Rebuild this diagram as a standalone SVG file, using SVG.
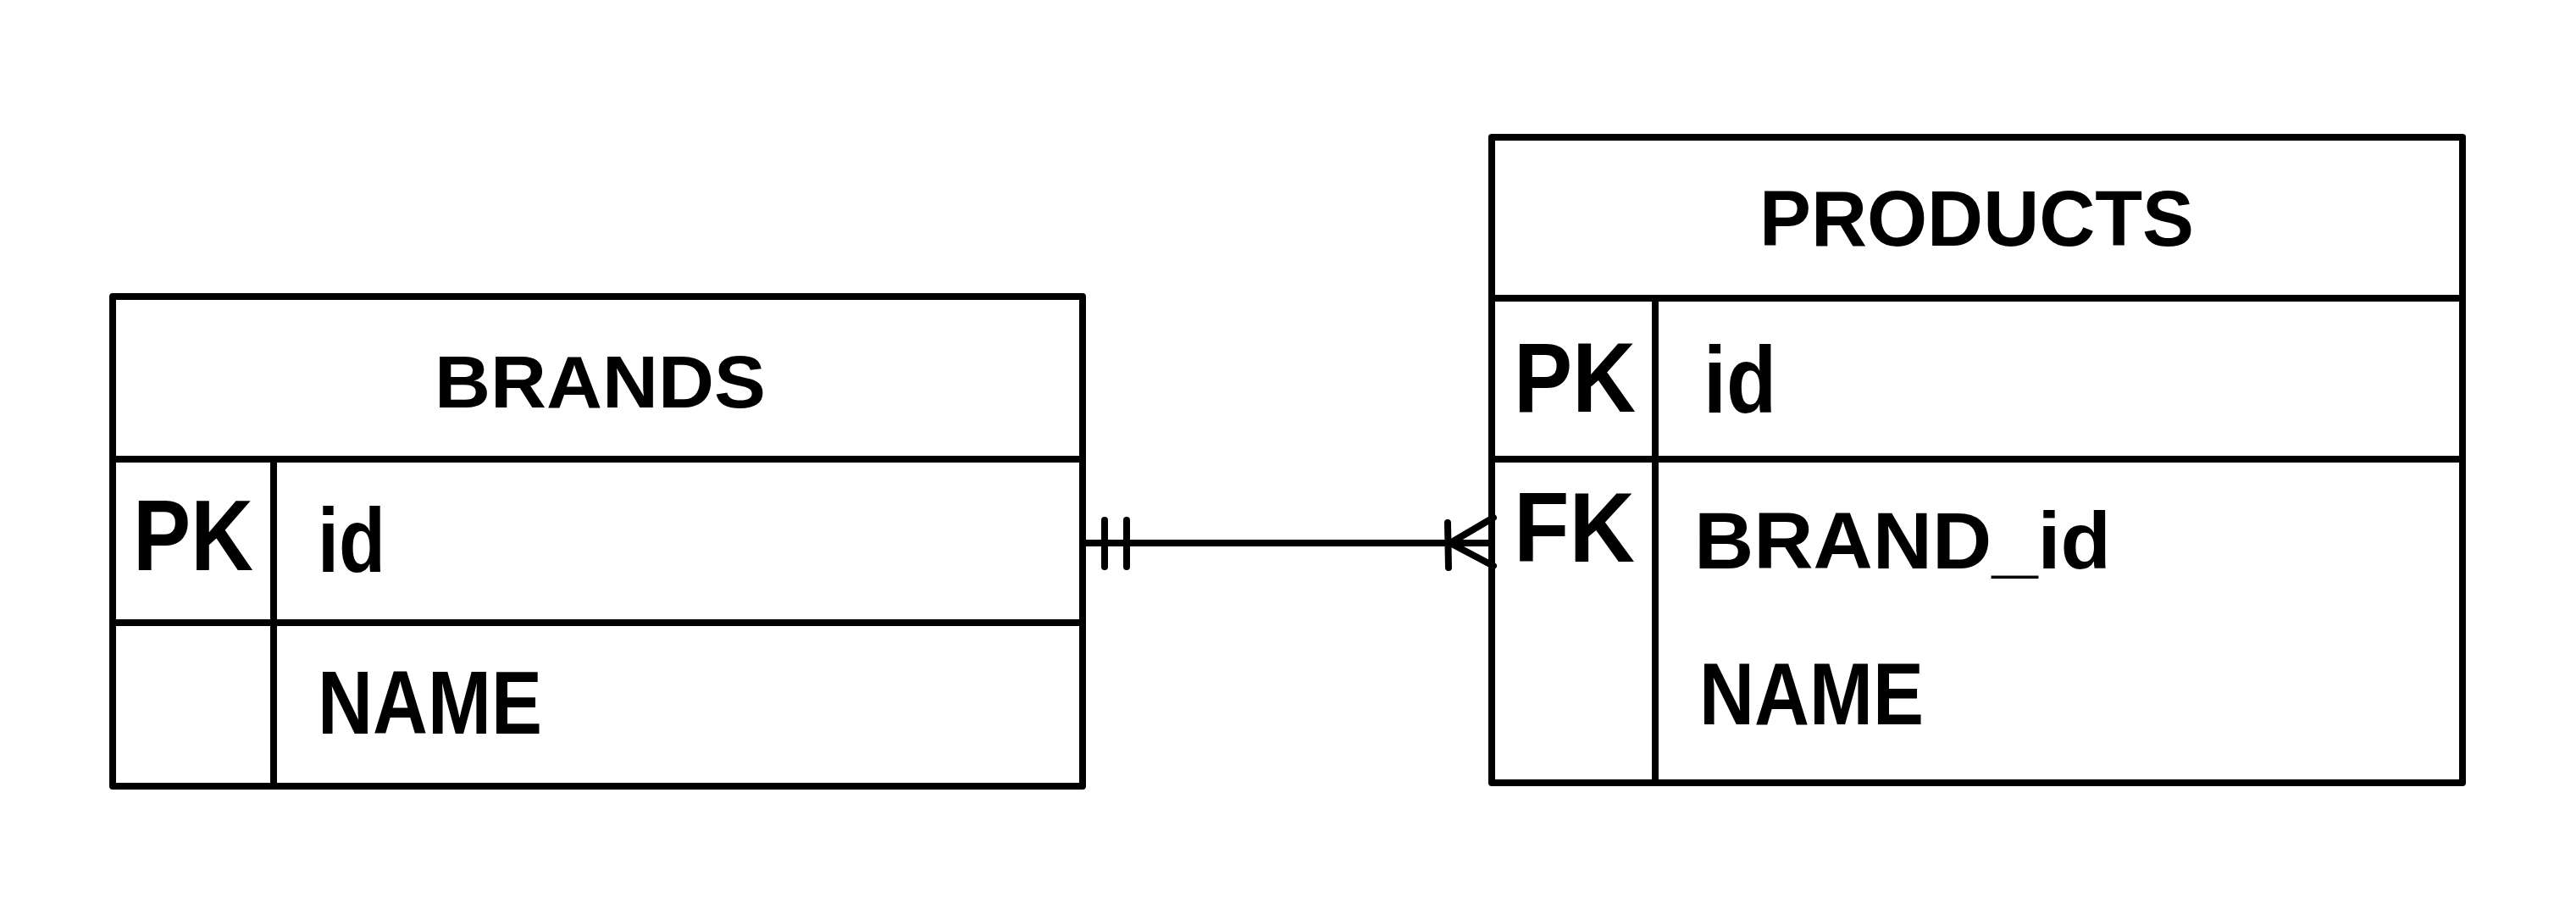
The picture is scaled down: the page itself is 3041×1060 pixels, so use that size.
<svg xmlns="http://www.w3.org/2000/svg" width="3041" height="1060" viewBox="0 0 3041 1060">
<style>
.ln{stroke:#000;stroke-width:8;fill:none;stroke-linecap:round;stroke-linejoin:round}
.t{font-family:"Liberation Sans",Arial,sans-serif;font-weight:bold;fill:#000}
</style>
<rect width="3041" height="1060" fill="#fff"/>
<g id="brands">
<rect class="ln" x="133" y="350" width="1145" height="578"/>
<line class="ln" x1="133" y1="542" x2="1278" y2="542"/>
<line class="ln" x1="133" y1="735" x2="1278" y2="735"/>
<line class="ln" x1="323" y1="542" x2="323" y2="928"/>
<text class="t" x="513" y="481" font-size="87" textLength="391" lengthAdjust="spacingAndGlyphs">BRANDS</text>
<text class="t" x="157" y="673" font-size="118" textLength="142" lengthAdjust="spacingAndGlyphs">PK</text>
<text class="t" x="375" y="675" font-size="108" textLength="80" lengthAdjust="spacingAndGlyphs">id</text>
<text class="t" x="375" y="866" font-size="106" textLength="265" lengthAdjust="spacingAndGlyphs">NAME</text>
</g>
<g id="products">
<rect class="ln" x="1761" y="162" width="1146" height="762"/>
<line class="ln" x1="1761" y1="352" x2="2907" y2="352"/>
<line class="ln" x1="1761" y1="542" x2="2907" y2="542"/>
<line class="ln" x1="1954" y1="352" x2="1954" y2="924"/>
<text class="t" x="2077" y="290" font-size="93" textLength="513" lengthAdjust="spacingAndGlyphs">PRODUCTS</text>
<text class="t" x="1787" y="486" font-size="116" textLength="144" lengthAdjust="spacingAndGlyphs">PK</text>
<text class="t" x="2011" y="487" font-size="112" textLength="86" lengthAdjust="spacingAndGlyphs">id</text>
<text class="t" x="1787" y="663" font-size="116" textLength="143" lengthAdjust="spacingAndGlyphs">FK</text>
<text class="t" x="2000" y="671" font-size="95" textLength="492" lengthAdjust="spacingAndGlyphs">BRAND_id</text>
<text class="t" x="2006" y="855" font-size="103" textLength="265" lengthAdjust="spacingAndGlyphs">NAME</text>
</g>
<g id="connectors">
<line class="ln" x1="1279" y1="641" x2="1761" y2="641"/>
<line class="ln" x1="1304" y1="614" x2="1304" y2="669"/>
<line class="ln" x1="1330" y1="614" x2="1330" y2="669"/>
<line class="ln" x1="1709" y1="617" x2="1710" y2="670"/>
<polyline class="ln" points="1763,611 1712,641 1763,668"/>
</g>
</svg>
